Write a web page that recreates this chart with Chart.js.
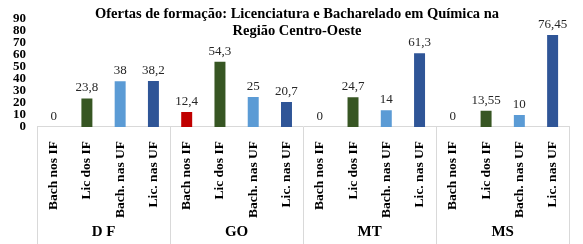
<!DOCTYPE html>
<html>
<head>
<meta charset="utf-8">
<script src="https://cdn.jsdelivr.net/npm/chart.js@4"></script>
<style>
    html, body { margin: 0; padding: 0; background: #fff; }
    #wrap { width: 583px; height: 244px; }
</style>
</head>
<body>
<div id="wrap"><canvas id="myChart"></canvas></div>
<script>
// dados
let regioes = ["D F", "GO", "MT", "MS"]
let cursos = ["Bach nos IF", "Lic dos IF", "Bach. nas UF", "Lic. nas UF"]
let coresCursos = ["#C00000", "#375623", "#5B9BD5", "#2F5597"]
let valoresDF = [0, 23.8, 38, 38.2]
let valoresGO = [12.4, 54.3, 25, 20.7]
let valoresMT = [0, 24.7, 14, 61.3]
let valoresMS = [0, 13.55, 10, 76.45]
let yTicks = [0, 10, 20, 30, 40, 50, 60, 70, 80, 90]
let tituloLinhas = ["Ofertas de formação: Licenciatura e Bacharelado em Química na", "Região Centro-Oeste"]

const serif = "'Liberation Serif', 'Times New Roman', serif"

// monta labels e dados (16 barras)
let labels = []
let valores = []
let cores = []
let todos = [valoresDF, valoresGO, valoresMT, valoresMS]
todos.forEach(arr => {
    arr.forEach((v, i) => {
        labels.push(cursos[i])
        valores.push(v)
        cores.push(coresCursos[i])
    })
})

// rótulos de valor em cima das barras
const valueLabels = {
    id: "valueLabels",
    afterDatasetsDraw(chart){
        let ctx = chart.ctx
        let meta = chart.getDatasetMeta(0)
        ctx.save()
        ctx.font = "13px " + serif
        ctx.fillStyle = "#262626"
        ctx.textAlign = "center"
        ctx.textBaseline = "bottom"
        meta.data.forEach((bar, i) => {
            let txt = String(valores[i]).replace(".", ",")
            ctx.fillText(txt, bar.x, bar.y - 4)
        })
        ctx.restore()
    }
}

// linhas separando as regiões + título
const extras = {
    id: "extras",
    afterDraw(chart){
        let ctx = chart.ctx
        let x2 = chart.scales.x2
        let area = chart.chartArea
        ctx.save()
        ctx.strokeStyle = "#D9D9D9"
        ctx.lineWidth = 1
        let w = (x2.right - x2.left) / regioes.length
        for (let k=0; k<=regioes.length; k++){
            let x = Math.round(x2.left + k * w) + 0.5
            ctx.beginPath()
            ctx.moveTo(x, area.bottom)
            ctx.lineTo(x, chart.height)
            ctx.stroke()
        }
        // título
        ctx.font = "bold 14.5px " + serif
        ctx.fillStyle = "#000"
        ctx.textAlign = "center"
        ctx.textBaseline = "middle"
        tituloLinhas.forEach((linha, i) => {
            ctx.fillText(linha, 297, 14 + i * 17)
        })
        ctx.restore()
    }
}

let canvas = document.querySelector("#myChart").getContext("2d")
new Chart(canvas, {
    type: "bar",
    data: {
        labels: labels,
        datasets: [{
            data: valores,
            backgroundColor: cores,
            barPercentage: 0.33,
            categoryPercentage: 1,
            xAxisID: "x",
        }]
    },
    options: {
        responsive: true,
        maintainAspectRatio: false,
        animation: false,
        layout: {
            padding: { top: 17, left: 12, right: 6, bottom: 0 }
        },
        scales: {
            x: {
                grid: { display: false, drawTicks: false },
                border: { display: true, color: "#D9D9D9" },
                ticks: {
                    color: "#000",
                    font: { family: serif, size: 13.5, weight: "bold" },
                    minRotation: 90,
                    maxRotation: 90,
                    autoSkip: false,
                    padding: 14,
                },
                afterFit(axis){
                    axis.height = 93
                },
            },
            x2: {
                type: "category",
                labels: regioes,
                position: "bottom",
                offset: true,
                grid: { display: false, drawTicks: false },
                border: { display: false },
                ticks: {
                    color: "#000",
                    font: { family: serif, size: 15, weight: "bold" },
                    padding: 3,
                },
                afterFit(axis){
                    axis.height = 24
                },
            },
            y: {
                min: 0,
                max: 90,
                afterBuildTicks(axis){
                    axis.ticks = yTicks.map(v => ({ value: v }))
                },
                grid: { display: false, drawTicks: false },
                border: { display: false },
                ticks: {
                    color: "#000",
                    font: { family: serif, size: 13, weight: "bold" },
                    padding: 11,
                    autoSkip: false,
                },
                afterFit(axis){
                    axis.width = 25
                },
            },
        },
        plugins: {
            legend: { display: false },
            title: { display: false },
            tooltip: { enabled: false },
        },
    },
    plugins: [valueLabels, extras],
})
</script>
</body>
</html>
